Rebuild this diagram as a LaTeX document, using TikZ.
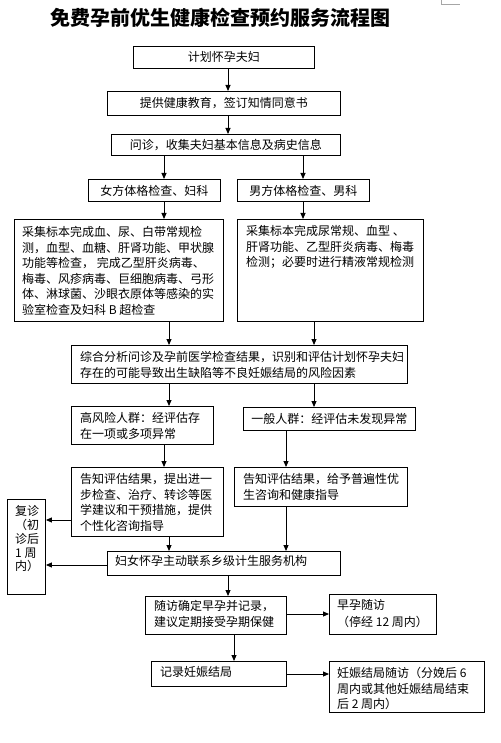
\documentclass[tikz,border=0pt]{standalone}
\usepackage{fontspec}
\setmainfont{Noto Sans CJK SC}
\usetikzlibrary{arrows.meta}
\begin{document}
\begin{tikzpicture}[x=1pt,y=-1pt,
  box/.style={draw, line width=0.9pt, inner sep=0, anchor=north west,
    font=\fontsize{12}{15.5}\selectfont},
  txt/.style={inner sep=0, anchor=north west, align=left,
    font=\fontsize{12}{15.5}\selectfont},
  arr/.style={line width=0.9pt, -{Triangle[length=6pt,width=5pt]}}]
\useasboundingbox (0,0) rectangle (500,743);
% corner mark
\draw[gray!70, line width=0.8pt] (441,0) -- (441,4) -- (460,4);
% title
\node[anchor=west, inner sep=0, font=\fontsize{20}{24}\selectfont\bfseries] (title) at (50,17.5) {免费孕前优生健康检查预约服务流程图};
% column coordinates
\coordinate (x164) at (164,0);
\coordinate (x169) at (169,0);
\coordinate (x228) at (228,0);
\coordinate (x234) at (234,0);
\coordinate (x286) at (286,0);
\coordinate (x303) at (303,0);
\coordinate (x314) at (314,0);
\coordinate (y520) at (0,520);
\coordinate (y565) at (0,565);
\coordinate (y614) at (0,614);
\coordinate (y674) at (0,674);
% boxes
\node[box, minimum width=181pt, minimum height=22pt] (b1) at (133,46) {计划怀孕夫妇};
\node[box, minimum width=233pt, minimum height=24pt] (b2) at (107,91) {提供健康教育，签订知情同意书};
\node[box, minimum width=229pt, minimum height=21pt] (b3) at (111,134) {问诊，收集夫妇基本信息及病史信息};
\node[box, minimum width=132pt, minimum height=22pt] (b4) at (88,179) {女方体格检查、妇科};
\node[box, minimum width=132pt, minimum height=22pt] (b5) at (237,179) {男方体格检查、男科};
\node[box, minimum width=209pt, minimum height=102pt] (b6) at (14,219) {};
\node[box, minimum width=186pt, minimum height=102pt] (b7) at (237,219) {};
\node[box, minimum width=336pt, minimum height=38pt] (b8) at (71,345) {};
\node[box, minimum width=142pt, minimum height=38pt] (b9) at (71,406) {};
\node[box, minimum width=172pt, minimum height=23pt] (b10) at (243,407) {一般人群：经评估未发现异常};
\node[box, minimum width=152pt, minimum height=69pt] (b11) at (71,467) {};
\node[box, minimum width=173pt, minimum height=39pt] (b12) at (234,467) {};
\node[box, minimum width=38pt, minimum height=95pt] (b13) at (7,499) {};
\node[box, minimum width=233pt, minimum height=24pt] (b14) at (107,551) {};
\node[box, minimum width=141pt, minimum height=38pt] (b15) at (145,596) {};
\node[box, minimum width=107pt, minimum height=40pt] (b16) at (329,594) {};
\node[box, minimum width=135pt, minimum height=25pt] (b17) at (151,661) {};
\node[box, minimum width=155pt, minimum height=51pt] (b18) at (329,661) {};
% texts
\node[txt] (t6) at (22,226.5) {采集标本完成血、尿、白带常规检\\测，血型、血糖、肝肾功能、甲状腺\\功能等检查， 完成乙型肝炎病毒、\\梅毒、风疹病毒、巨细胞病毒、弓形\\体、淋球菌、沙眼衣原体等感染的实\\验室检查及妇科 B 超检查};
\node[txt] (t7) at (246,225.5) {采集标本完成尿常规、血型 、\\肝肾功能、乙型肝炎病毒、梅毒\\检测；必要时进行精液常规检测};
\node[txt] (t8) at (80,351.5) {综合分析问诊及孕前医学检查结果，识别和评估计划怀孕夫妇\\存在的可能导致出生缺陷等不良妊娠结局的风险因素};
\node[txt] (t9) at (80,412.5) {高风险人群：经评估存\\在一项或多项异常};
\node[txt] (t11) at (80,473.5) {告知评估结果，提出进一\\步检查、治疗、转诊等医\\学建议和干预措施，提供\\个性化咨询指导};
\node[txt] (t12) at (243,473.5) {告知评估结果，给予普遍性优\\生咨询和健康指导};
\node[txt, font=\fontsize{12}{13.75}\selectfont] (t13) at (15,505.5) {复诊\\（初\\诊后\\1 周\\内）};
\node[txt] (t14) at (115,555.5) {妇女怀孕主动联系乡级计生服务机构};
\node[txt, font=\fontsize{12}{16}\selectfont] (t15) at (154,600.5) {随访确定早孕并记录，\\建议定期接受孕期保健};
\node[txt, font=\fontsize{12}{17}\selectfont] (t16) at (337,599.5) {早孕随访\\（停经 12 周内）};
\node[txt] (t17) at (160,666.5) {记录妊娠结局};
\node[txt] (t18) at (337,667.5) {妊娠结局随访（分娩后 6\\周内或其他妊娠结局结束\\后 2 周内）};
% connectors
\draw[arr] (b1.south -| x228) -- (b2.north -| x228);
\draw[arr] (b2.south -| x228) -- (b3.north -| x228);
\draw[arr] (b3.south -| x164) -- (b4.north -| x164);
\draw[arr] (b3.south -| x303) -- (b5.north -| x303);
\draw[arr] (b4.south -| x164) -- (b6.north -| x164);
\draw[arr] (b5.south -| x303) -- (b7.north -| x303);
\draw[arr] (b6.south -| x169) -- (b8.north -| x169);
\draw[arr] (b7.south -| x314) -- (b8.north -| x314);
\draw[arr] (b8.south -| x169) -- (b9.north -| x169);
\draw[arr] (b8.south -| x314) -- (b10.north -| x314);
\draw[arr] (b9.south -| x164) -- (b11.north -| x164);
\draw[arr] (b10.south -| x286) -- (b12.north -| x286);
\draw[arr] (b11.west |- y520) -- (b13.east |- y520);
\draw[arr] (b14.west |- y565) -- (b13.east |- y565);
\draw[arr] (b11.south -| x169) -- (b14.north -| x169);
\draw[arr] (b12.south -| x286) -- (b14.north -| x286);
\draw[arr] (b14.south -| x228) -- (b15.north -| x228);
\draw[arr] (b15.east |- y614) -- (b16.west |- y614);
\draw[arr] (b15.south -| x234) -- (b17.north -| x234);
\draw[arr] (b17.east |- y674) -- (b18.west |- y674);
\end{tikzpicture}
\end{document}
